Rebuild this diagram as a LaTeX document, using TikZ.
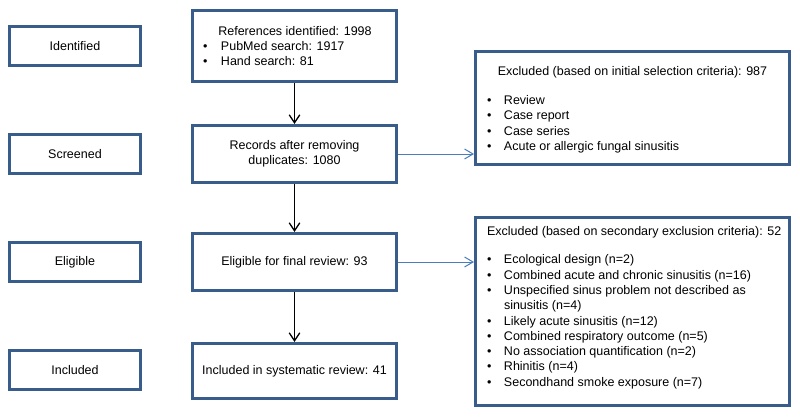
\documentclass[tikz,border=0pt]{standalone}
\usepackage{fontspec}
\setmainfont{Liberation Sans}
\usetikzlibrary{arrows.meta}
\definecolor{boxblue}{HTML}{385D8A}
\definecolor{arrblue}{HTML}{4A7EBB}
\tikzset{
  box/.style={draw=boxblue, line width=3pt, fill=white, inner sep=0pt, align=center},
  txt/.style={inner sep=0pt, outer sep=0pt},
  darrow/.style={draw=black, line width=1.3pt, -{Straight Barb[length=8pt,width=10.5pt,line width=1.3pt]}},
  barrow/.style={draw=arrblue, line width=1pt, -{Straight Barb[length=8.5pt,width=10pt,line width=1pt]}}
}
\begin{document}
\begin{tikzpicture}[x=1pt,y=-1pt, every node/.style={font=\fontsize{12.5}{15.3}\selectfont}]
\useasboundingbox (0,0) rectangle (800,417);
% left stage boxes
\node[box, minimum width=131pt, minimum height=39pt] (ident) at (75,46) {Identified};
\node[box, minimum width=131pt, minimum height=39pt] (scr) at (75,154) {Screened};
\node[box, minimum width=131pt, minimum height=39pt] (elg) at (75,262) {Eligible};
\node[box, minimum width=131pt, minimum height=39pt] (inc) at (75,370) {Included};
% centre boxes
\node[box, minimum width=204pt, minimum height=71pt] (refs) at (294.5,46) {};
\node[txt, anchor=base] (refst) at (295,36) {References identified: 1998};
\node[txt, anchor=base west] (refsl) at (203,50.5) {\def\arraystretch{0.95}\begin{tabular}[t]{@{}p{18pt}@{}l@{}}\textbullet & PubMed search: 1917\\ \textbullet & Hand search: 81\end{tabular}};
\node[box, minimum width=204pt, minimum height=57pt] (rec) at (294.5,154) {Records after removing\\duplicates: 1080};
\node[box, minimum width=204pt, minimum height=57pt] (fin) at (294.5,262) {Eligible for final review: 93};
\node[box, minimum width=204pt, minimum height=55pt] (sys) at (294.5,371) {Included in systematic review: 41};
% right boxes
\node[box, minimum width=314pt, minimum height=113pt] (ex1) at (632.5,108) {};
\node[txt, anchor=base] (ex1t) at (632.5,76) {Excluded (based on initial selection criteria): 987};
\node[txt, anchor=base west] (ex1l) at (487,104.5) {\begin{tabular}[t]{@{}p{17pt}@{}l@{}}\textbullet & Review\\ \textbullet & Case report\\ \textbullet & Case series\\ \textbullet & Acute or allergic fungal sinusitis\end{tabular}};
\node[box, minimum width=314pt, minimum height=188pt] (ex2) at (632.5,311.5) {};
\node[txt, anchor=base west] (ex2l) at (487,235) {\begin{tabular}[t]{@{}p{17pt}@{}l@{}}\multicolumn{2}{@{}l@{}}{Excluded (based on secondary exclusion criteria): 52}\\[13.5pt]
\textbullet & Ecological design (n=2)\\
\textbullet & Combined acute and chronic sinusitis (n=16)\\
\textbullet & Unspecified sinus problem not described as\\
 & sinusitis (n=4)\\
\textbullet & Likely acute sinusitis (n=12)\\
\textbullet & Combined respiratory outcome (n=5)\\
\textbullet & No association quantification (n=2)\\
\textbullet & Rhinitis (n=4)\\
\textbullet & Secondhand smoke exposure (n=7)\end{tabular}};
% connectors
\draw[darrow] (refs.south) -- (rec.north);
\draw[darrow] (rec.south) -- (fin.north);
\draw[darrow] (fin.south) -- (sys.north);
\draw[barrow] (rec.east) -- (rec.east -| ex1.west);
\draw[barrow] (fin.east) -- (fin.east -| ex2.west);
\end{tikzpicture}
\end{document}
